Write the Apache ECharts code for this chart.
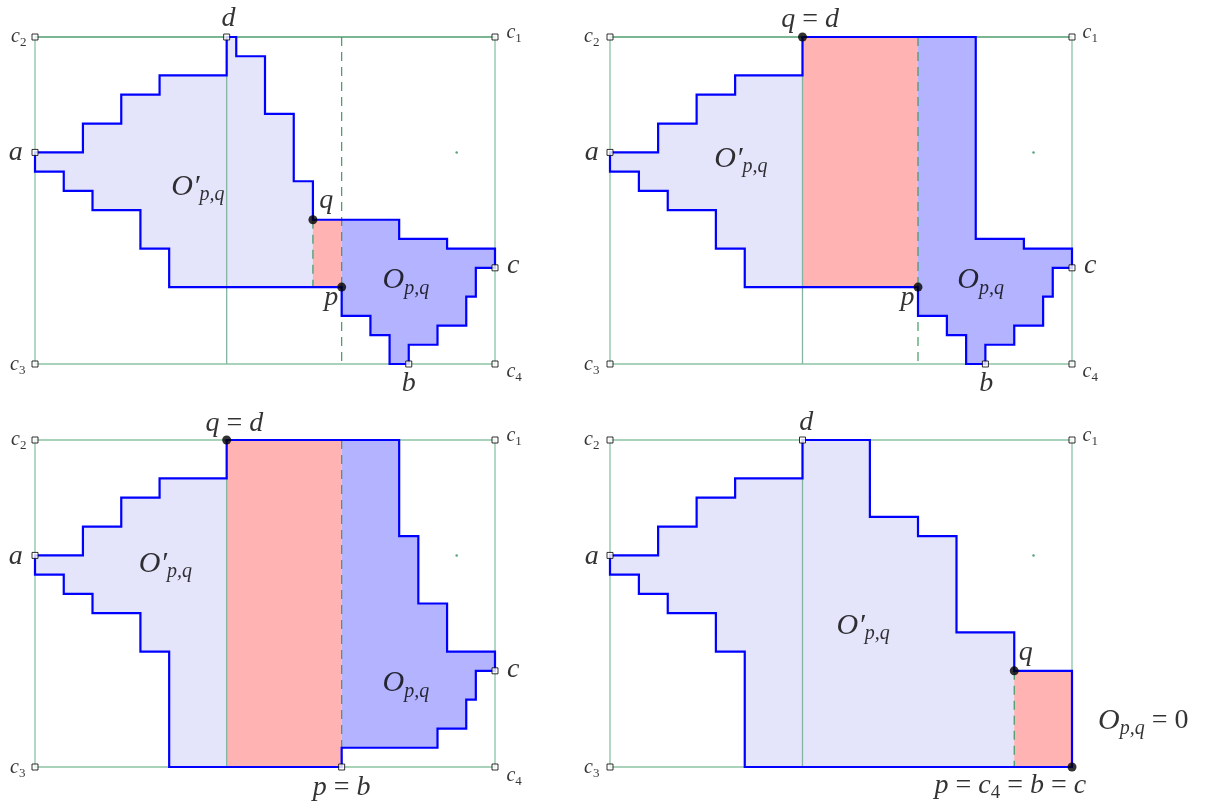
<!DOCTYPE html>
<html>
<head>
<meta charset="utf-8">
<script src="https://cdn.jsdelivr.net/npm/echarts@6/dist/echarts.min.js"></script>
<style>html,body{margin:0;padding:0;background:#fff;}#chart{width:1210px;height:805px;}</style>
</head>
<body>
<div id="chart"></div>
<script>
// ---------- DATA (grid units: x 0..48, y 0..34 measured downward) ----------
const rectCorners = [[0,0],[48,0],[48,34],[0,34]];

const outline1 = [[0,12],[5,12],[5,9],[9,9],[9,6],[13,6],[13,4],[20,4],[20,0],[21,0],[21,2],[24,2],[24,8],[27,8],[27,15],[29,15],[29,19],[38,19],[38,21],[43,21],[43,22],[48,22],[48,24],[46,24],[46,27],[45,27],[45,30],[42,30],[42,32],[39,32],[39,34],[37,34],[37,31],[35,31],[35,29],[32,29],[32,26],[14,26],[14,22],[11,22],[11,18],[6,18],[6,16],[3,16],[3,14],[0,14]];
const blue1 = [[32,19],[38,19],[38,21],[43,21],[43,22],[48,22],[48,24],[46,24],[46,27],[45,27],[45,30],[42,30],[42,32],[39,32],[39,34],[37,34],[37,31],[35,31],[35,29],[32,29]];
const red1 = [[29,19],[32,19],[32,26],[29,26]];

const outline2 = [[0,12],[5,12],[5,9],[9,9],[9,6],[13,6],[13,4],[20,4],[20,0],[38,0],[38,21],[43,21],[43,22],[48,22],[48,24],[46,24],[46,27],[45,27],[45,30],[42,30],[42,32],[39,32],[39,34],[37,34],[37,31],[35,31],[35,29],[32,29],[32,26],[14,26],[14,22],[11,22],[11,18],[6,18],[6,16],[3,16],[3,14],[0,14]];
const blue2 = [[32,0],[38,0],[38,21],[43,21],[43,22],[48,22],[48,24],[46,24],[46,27],[45,27],[45,30],[42,30],[42,32],[39,32],[39,34],[37,34],[37,31],[35,31],[35,29],[32,29]];
const red2 = [[20,0],[32,0],[32,26],[20,26]];

const outline3 = [[0,12],[5,12],[5,9],[9,9],[9,6],[13,6],[13,4],[20,4],[20,0],[38,0],[38,10],[40,10],[40,17],[43,17],[43,22],[48,22],[48,24],[46,24],[46,27],[45,27],[45,30],[42,30],[42,32],[32,32],[32,34],[14,34],[14,22],[11,22],[11,18],[6,18],[6,16],[3,16],[3,14],[0,14]];
const blue3 = [[32,0],[38,0],[38,10],[40,10],[40,17],[43,17],[43,22],[48,22],[48,24],[46,24],[46,27],[45,27],[45,30],[42,30],[42,32],[32,32]];
const red3 = [[20,0],[32,0],[32,34],[20,34]];

const outline4 = [[0,12],[5,12],[5,9],[9,9],[9,6],[13,6],[13,4],[20,4],[20,0],[27,0],[27,8],[32,8],[32,10],[36,10],[36,20],[42,20],[42,24],[48,24],[48,34],[14,34],[14,22],[11,22],[11,18],[6,18],[6,16],[3,16],[3,14],[0,14]];
const blue4 = [];
const red4 = [[42,24],[48,24],[48,34],[42,34]];

const solid1 = [[[20,0],[20,34]]];
const solid2 = [[[20,0],[20,34]]];
const solid3 = [[[20,0],[20,34]]];
const solid4 = [[[20,0],[20,34]]];
const dashed1 = [[[32,0],[32,34]],[[29,19],[29,26]]];
const dashed2 = [[[32,0],[32,34]]];
const dashed3 = [[[32,0],[32,34]]];
const dashed4 = [[[42,24],[42,34]]];

const squares1 = [[0,0],[48,0],[0,34],[48,34],[0,12],[20,0],[48,24],[39,34]];
const squares2 = [[0,0],[48,0],[0,34],[48,34],[0,12],[48,24],[39,34]];
const squares3 = [[0,0],[48,0],[0,34],[48,34],[0,12],[48,24],[32,34]];
const squares4 = [[0,0],[48,0],[0,34],[0,12],[20,0]];
const dots1 = [[29,19],[32,26]];
const dots2 = [[20,0],[32,26]];
const dots3 = [[20,0]];
const dots4 = [[42,24],[48,34]];
const specks = [[44,12]];

// label text and anchor (grid units)
const labels1 = [['{l|d}',[20.2,-1.9]],['{c|c}{n|2}',[-1.7,0.0]],['{c|c}{n|1}',[50.0,-0.4]],['{l|a}',[-2.0,12.0]],['{l|c}',[49.9,23.8]],['{c|c}{n|3}',[-1.8,34.1]],['{c|c}{n|4}',[50.0,34.8]],['{l|b}',[39.0,36.0]],['{l|q}',[30.4,17.0]],['{l|p}',[30.9,27.1]],['{m|O′}{s|p,q}',[17.0,15.6]],['{m|O}{s|p,q}',[38.7,25.3]]];
const labels2 = [['{l|q}{e| = }{l|d}',[20.8,-1.8]],['{c|c}{n|2}',[-1.9,0.0]],['{c|c}{n|1}',[49.9,-0.4]],['{l|a}',[-1.9,12.0]],['{m|O′}{s|p,q}',[13.6,12.7]],['{l|p}',[30.9,27.1]],['{m|O}{s|p,q}',[38.5,25.3]],['{l|c}',[49.9,23.8]],['{c|c}{n|3}',[-1.9,34.1]],['{c|c}{n|4}',[49.9,34.8]],['{l|b}',[39.1,36.0]]];
const labels3 = [['{l|q}{e| = }{l|d}',[20.8,-1.7]],['{c|c}{n|2}',[-1.7,0.0]],['{c|c}{n|1}',[50.0,-0.4]],['{l|a}',[-2.0,12.1]],['{m|O′}{s|p,q}',[13.6,12.9]],['{m|O}{s|p,q}',[38.7,25.3]],['{l|c}',[49.9,23.9]],['{c|c}{n|3}',[-1.8,34.1]],['{c|c}{n|4}',[50.0,34.9]],['{l|p}{e| = }{l|b}',[32.0,36.1]]];
const labels4 = [['{l|d}',[20.4,-1.8]],['{c|c}{n|2}',[-1.9,0.0]],['{c|c}{n|1}',[49.9,-0.4]],['{l|a}',[-1.9,12.1]],['{m|O′}{s|p,q}',[26.3,19.3]],['{l|q}',[43.2,22.1]],['{m|O}{s|p,q}{e| = 0}',[55.4,29.2]],['{c|c}{n|3}',[-1.9,34.1]],['{l|p}{e| = }{l|c}{ls|4}{e| = }{l|b}{e| = }{l|c}',[41.6,35.9]]];

// ---------- STYLE ----------
const FONT = '"Liberation Serif", "DejaVu Serif", serif';
const C_LAV = '#e4e4fa', C_BLUE = '#b3b3ff', C_RED = '#ffb3b3', C_EDGE = '#0000ff';
const C_RECT = '#8cc3a3', C_RECT_TOP = '#4f9a6c', C_SOLID = '#86b4a2', C_DASH = '#3f9a62';
const base = {textBorderWidth:0, textShadowBlur:0, color:'#000'};
function rs(o){ return Object.assign({}, base, o); }
const rich = {
  l:rs({fontFamily:FONT,fontStyle:'italic',fontSize:28,lineHeight:36}),
  e:rs({fontFamily:FONT,fontStyle:'normal',fontSize:28,lineHeight:36}),
  m:rs({fontFamily:FONT,fontStyle:'italic',fontSize:30,lineHeight:36}),
  s:rs({fontFamily:FONT,fontStyle:'italic',fontSize:20,lineHeight:20,padding:[16,0,0,0]}),
  ls:rs({fontFamily:FONT,fontStyle:'normal',fontSize:19,lineHeight:19,padding:[15,0,0,0]}),
  c:rs({fontFamily:FONT,fontStyle:'italic',fontSize:20,lineHeight:26}),
  n:rs({fontFamily:FONT,fontStyle:'normal',fontSize:13,lineHeight:13,padding:[11,0,0,0]})
};

const panels = [
  {outline:outline1,blue:blue1,red:red1,solid:solid1,dashed:dashed1,squares:squares1,dots:dots1,labels:labels1,darkTop:true},
  {outline:outline2,blue:blue2,red:red2,solid:solid2,dashed:dashed2,squares:squares2,dots:dots2,labels:labels2,darkTop:true},
  {outline:outline3,blue:blue3,red:red3,solid:solid3,dashed:dashed3,squares:squares3,dots:dots3,labels:labels3,darkTop:false},
  {outline:outline4,blue:blue4,red:red4,solid:solid4,dashed:dashed4,squares:squares4,dots:dots4,labels:labels4,darkTop:false}
];

function shape(i, pts, kind, style, z) {
  return {
    type:'custom', coordinateSystem:'cartesian2d', xAxisIndex:i, yAxisIndex:i,
    silent:true, clip:false, z:z, data:[pts[0]],
    renderItem:function(params, api){
      const p = pts.map(function(v){ return api.coord(v); });
      return {type:kind, shape:{points:p}, style:style};
    }
  };
}

const series = [];
panels.forEach(function(P, i){
  series.push(shape(i, P.outline, 'polygon', {fill:C_LAV, stroke:null}, 1));
  if (P.blue.length) series.push(shape(i, P.blue, 'polygon', {fill:C_BLUE, stroke:null}, 2));
  series.push(shape(i, P.red, 'polygon', {fill:C_RED, stroke:null}, 3));
  series.push(shape(i, rectCorners, 'polygon', {fill:null, stroke:C_RECT, lineWidth:1.3}, 4));
  if (P.darkTop) series.push(shape(i, [rectCorners[0], rectCorners[1]], 'polyline', {fill:null, stroke:C_RECT_TOP, lineWidth:1}, 4));
  P.solid.forEach(function(seg){ series.push(shape(i, seg, 'polyline', {fill:null, stroke:C_SOLID, lineWidth:1.3}, 5)); });
  P.dashed.forEach(function(seg){ series.push(shape(i, seg, 'polyline', {fill:null, stroke:C_DASH, lineWidth:1.2, lineDash:[9,6]}, 5)); });
  series.push(shape(i, P.outline, 'polygon', {fill:null, stroke:C_EDGE, lineWidth:2.2, lineJoin:'miter'}, 6));
  series.push({type:'scatter', xAxisIndex:i, yAxisIndex:i, silent:true, clip:false, z:7,
    symbol:'circle', symbolSize:2.5, itemStyle:{color:'#2e8b57'}, data:specks});
  series.push({type:'scatter', xAxisIndex:i, yAxisIndex:i, silent:true, clip:false, z:8,
    symbol:'rect', symbolSize:6, itemStyle:{color:'#fff', borderColor:'#000', borderWidth:1}, data:P.squares});
  series.push({type:'scatter', xAxisIndex:i, yAxisIndex:i, silent:true, clip:false, z:9,
    symbol:'circle', symbolSize:9, itemStyle:{color:'#000'}, data:P.dots});
  series.push({type:'scatter', xAxisIndex:i, yAxisIndex:i, silent:true, clip:false, z:10,
    symbolSize:0, itemStyle:{color:'transparent'},
    label:{show:true, position:'inside', color:'#000', textBorderWidth:0, rich:rich, formatter:function(d){ return d.data.txt; }},
    data:P.labels.map(function(L){ return {value:L[1], txt:L[0]}; })});
});

const chart = echarts.init(document.getElementById('chart'), null, {renderer:'canvas'});
chart.setOption({
  animation:false,
  backgroundColor:'#fff',
  grid:[
    {left:35, top:37, width:460, height:327},
    {left:610, top:37, width:462, height:327},
    {left:35, top:440, width:460, height:327},
    {left:610, top:440, width:462, height:327}
  ],
  xAxis:[0,1,2,3].map(function(i){ return {type:'value', gridIndex:i, min:0, max:48, show:false}; }),
  yAxis:[0,1,2,3].map(function(i){ return {type:'value', gridIndex:i, min:0, max:34, inverse:true, show:false}; }),
  series:series
});
</script>
</body>
</html>
